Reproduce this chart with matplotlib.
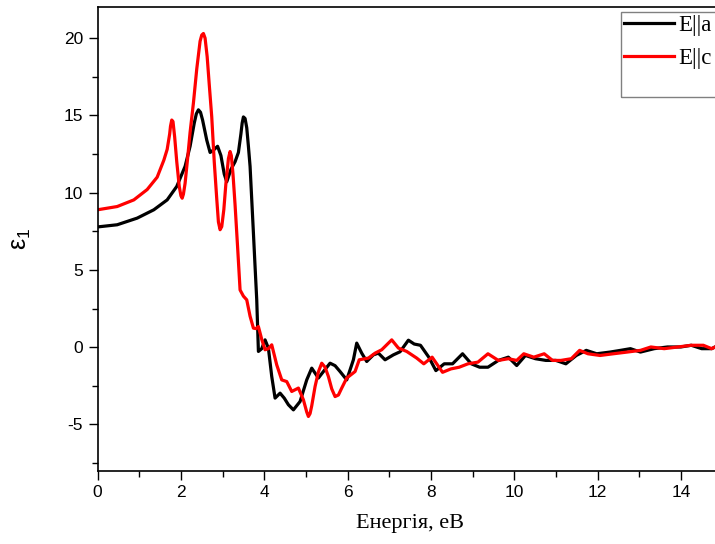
import matplotlib.pyplot as plt
from matplotlib.patches import Rectangle
from matplotlib.ticker import MultipleLocator

plt.rcParams['mathtext.fontset'] = 'custom'
plt.rcParams['mathtext.rm'] = 'Liberation Sans'
plt.rcParams['mathtext.it'] = 'Liberation Sans'
plt.rcParams['axes.unicode_minus'] = False

# eps1 for E||a
energy_a = [0.0, 0.47, 0.95, 1.35, 1.67, 1.9, 2.1, 2.22, 2.32, 2.37, 2.42, 2.47, 2.52, 2.62,
            2.7, 2.8, 2.88, 2.96, 3.04, 3.1, 3.2, 3.3, 3.38, 3.44, 3.47, 3.5, 3.54, 3.58,
            3.62, 3.66, 3.74, 3.78, 3.82, 3.86, 3.94, 4.02, 4.1, 4.18, 4.26, 4.38, 4.48,
            4.58, 4.7, 4.86, 5.02, 5.14, 5.3, 5.42, 5.58, 5.7, 5.82, 5.98, 6.14, 6.22,
            6.34, 6.46, 6.62, 6.74, 6.9, 7.1, 7.26, 7.46, 7.6, 7.75, 7.95, 8.12, 8.32,
            8.52, 8.76, 8.97, 9.17, 9.37, 9.62, 9.86, 10.06, 10.27, 10.51, 10.76, 11.0,
            11.24, 11.49, 11.73, 11.98, 12.3, 12.55, 12.79, 13.03, 13.36, 13.68, 14.0,
            14.25, 14.5, 14.74, 15.0]
eps_a = [7.78, 7.92, 8.35, 8.89, 9.53, 10.4, 11.7, 13.0, 14.5, 15.1, 15.36, 15.2, 14.7, 13.4,
         12.6, 12.8, 13.0, 12.4, 11.2, 10.7, 11.5, 12.0, 12.6, 13.8, 14.5, 14.9, 14.8, 14.2,
         13.0, 11.7, 7.4, 5.2, 3.06, -0.28, -0.1, 0.47, -0.07, -1.9, -3.3, -2.98, -3.3,
         -3.73, -4.06, -3.52, -2.12, -1.36, -2.0, -1.58, -1.04, -1.2, -1.58, -2.12, -0.82, 0.26,
         -0.39, -0.93, -0.5, -0.39, -0.82, -0.5, -0.3, 0.45, 0.2, 0.12, -0.65, -1.52, -1.08,
         -1.08, -0.43, -1.08, -1.3, -1.3, -0.86, -0.65, -1.19, -0.54, -0.75, -0.86, -0.86,
         -1.08, -0.54, -0.21, -0.43, -0.32, -0.21, -0.1, -0.32, -0.1, 0.01, 0.01,
         0.12, -0.1, -0.1, 0.25]

# eps1 for E||c
energy_c = [0.0, 0.47, 0.87, 1.19, 1.43, 1.59, 1.67, 1.73, 1.75, 1.78, 1.81, 1.85, 1.9, 1.96,
            2.0, 2.03, 2.06, 2.1, 2.16, 2.22, 2.3, 2.38, 2.46, 2.5, 2.54, 2.58, 2.63, 2.68,
            2.74, 2.8, 2.86, 2.9, 2.94, 2.98, 3.03, 3.08, 3.14, 3.18, 3.21, 3.25, 3.3, 3.36,
            3.42, 3.5, 3.58, 3.66, 3.74, 3.8, 3.86, 3.94, 4.02, 4.1, 4.18, 4.3, 4.42, 4.54,
            4.66, 4.82, 4.94, 5.02, 5.06, 5.1, 5.14, 5.22, 5.3, 5.38, 5.46, 5.54, 5.62, 5.7,
            5.78, 5.86, 5.98, 6.18, 6.28, 6.5, 6.66, 6.82, 7.06, 7.22, 7.42, 7.66, 7.83,
            8.03, 8.28, 8.48, 8.68, 8.89, 9.13, 9.37, 9.62, 9.86, 10.06, 10.23, 10.47,
            10.72, 10.92, 11.12, 11.37, 11.57, 11.77, 12.06, 12.38, 12.71, 13.03, 13.28,
            13.6, 13.93, 14.25, 14.54, 14.74, 15.0]
eps_c = [8.89, 9.1, 9.53, 10.2, 11.0, 12.1, 12.8, 13.8, 14.3, 14.7, 14.6, 13.6, 12.0, 10.4,
         9.8, 9.64, 9.9, 10.6, 12.2, 13.9, 15.8, 18.0, 19.8, 20.2, 20.3, 20.0, 18.8, 17.0,
         14.9, 12.0, 9.6, 8.1, 7.6, 7.8, 8.9, 10.6, 12.2, 12.66, 12.4, 11.2, 9.2, 6.5,
         3.7, 3.3, 3.06, 2.0, 1.23, 1.2, 1.33, 0.5, -0.17, -0.1, 0.15, -1.15, -2.12, -2.23,
         -2.87, -2.65, -3.41, -4.2, -4.49, -4.3, -3.8, -2.55, -1.6, -1.04, -1.3, -1.9, -2.7, -3.2,
         -3.1, -2.65, -2.0, -1.58, -0.82, -0.71, -0.39, -0.17, 0.47, -0.06, -0.28, -0.71, -1.08,
         -0.65, -1.63, -1.41, -1.3, -1.08, -0.97, -0.43, -0.86, -0.75, -0.86, -0.43, -0.65,
         -0.43, -0.86, -0.86, -0.75, -0.21, -0.43, -0.54, -0.43, -0.32, -0.21, 0.01,
         -0.1, 0.01, 0.12, 0.12, -0.1, 0.25]

fig = plt.figure(figsize=(7.15, 5.44), dpi=100)
ax = fig.add_axes([0.1365, 0.1347, 0.874, 0.852])

ax.plot(energy_a, eps_a, color='black', lw=2.3, solid_joinstyle='round', label='E||a')
ax.plot(energy_c, eps_c, color='#ff0000', lw=2.3, solid_joinstyle='round', label='E||c')

ax.set_xlim(0, 15)
ax.set_ylim(-8, 22)
ax.xaxis.set_major_locator(MultipleLocator(2))
ax.xaxis.set_minor_locator(MultipleLocator(1))
ax.yaxis.set_major_locator(MultipleLocator(5))
ax.yaxis.set_minor_locator(MultipleLocator(2.5))
ax.tick_params(which='major', direction='out', length=6.5, width=1, labelsize=12.5, pad=4)
ax.tick_params(which='minor', direction='out', length=4, width=1)
for lab in ax.get_xticklabels() + ax.get_yticklabels():
    lab.set_family('Liberation Sans')
for s in ax.spines.values():
    s.set_linewidth(1.2)

ax.set_xlabel('Енергія, еВ', family='Liberation Serif', fontsize=16, labelpad=10)
ax.set_ylabel(r'$\mathrm{\varepsilon}_1$', fontsize=18, labelpad=22)

# legend box
fig.patches.append(Rectangle((621 / 715, 1 - 97 / 544), 0.2, 85 / 544, transform=fig.transFigure,
                             fill=False, edgecolor='#808080', lw=1))
ax.legend(loc='upper left', bbox_to_anchor=(621 / 715, 1 - 12 / 544),
          bbox_transform=fig.transFigure, frameon=False, borderpad=0.15, borderaxespad=0,
          handlelength=2.15, handletextpad=0.2, labelspacing=0.5,
          prop={'family': 'Liberation Serif', 'size': 16.5})

fig.savefig('out.png', dpi=100)
